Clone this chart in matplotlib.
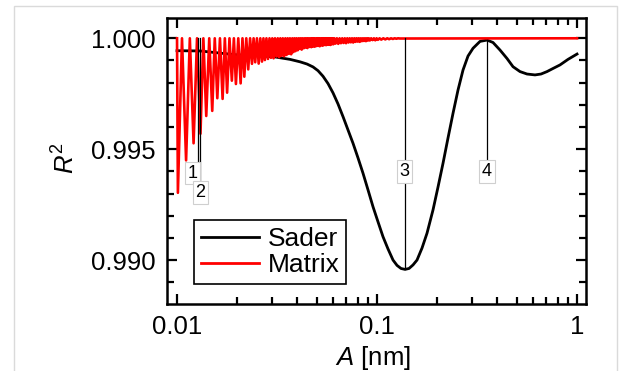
import matplotlib
matplotlib.use("Agg")
import matplotlib.pyplot as plt
import numpy as np
from matplotlib.patches import Rectangle
from matplotlib.ticker import FixedLocator, FixedFormatter, MultipleLocator, NullFormatter

plt.rcParams['font.family'] = ['Liberation Sans', 'DejaVu Sans']
plt.rcParams['mathtext.fontset'] = 'custom'
plt.rcParams['mathtext.rm'] = 'Liberation Sans'
plt.rcParams['mathtext.it'] = 'Liberation Sans:italic'

# Sader fit quality vs. amplitude
sader_A = [0.0100, 0.01303, 0.01950, 0.02600, 0.03090, 0.03673, 0.04121, 0.04467,
           0.04786, 0.05070, 0.05370, 0.05689, 0.06026, 0.06383, 0.06761, 0.07161,
           0.07586, 0.08035, 0.08511, 0.09016, 0.09550, 0.10116, 0.10715, 0.11350,
           0.12023, 0.12589, 0.13183, 0.13804, 0.14454, 0.15136, 0.15849, 0.16788,
           0.17783, 0.19055, 0.20184, 0.21380, 0.22646, 0.23988, 0.25410, 0.26915,
           0.28510, 0.30200, 0.32734, 0.35481, 0.38019, 0.41210, 0.44668, 0.47863,
           0.51880, 0.56234, 0.61660, 0.66069, 0.70795, 0.75858, 0.82224, 0.90157,
           1.0]
sader_R2 = [0.99944, 0.99943, 0.99926, 0.99921, 0.99916, 0.99905, 0.99894, 0.99884,
            0.99871, 0.99854, 0.99829, 0.99796, 0.99754, 0.99704, 0.99647, 0.99587,
            0.99527, 0.99461, 0.99392, 0.99317, 0.99241, 0.99173, 0.99106, 0.99051,
            0.99001, 0.98977, 0.98963, 0.98959, 0.98963, 0.98979, 0.99001, 0.99055,
            0.99122, 0.99227, 0.99330, 0.99437, 0.99551, 0.99662, 0.99767, 0.99857,
            0.99920, 0.99955, 0.99986, 0.99992, 0.99981, 0.99947, 0.99909, 0.99872,
            0.99850, 0.99839, 0.99835, 0.99839, 0.99850, 0.99864, 0.99880, 0.99905,
            0.99929]

# Matrix method: oscillation minima (the curve returns to the peak level between them)
matrix_dip_A = [0.0101, 0.0111, 0.0121, 0.0131, 0.0140, 0.0150, 0.0159, 0.0169,
                0.0178, 0.0188, 0.0197, 0.0208, 0.0217, 0.0227, 0.0237, 0.0246,
                0.0256, 0.0266, 0.0275, 0.0285, 0.0295, 0.0304, 0.0314, 0.0324,
                0.0333, 0.0343, 0.0353, 0.0362, 0.0372, 0.0382, 0.0391, 0.0401,
                0.0411, 0.0420, 0.0430, 0.0440, 0.0449, 0.0459, 0.0469, 0.0478,
                0.0488, 0.0498, 0.0507, 0.0517, 0.0527, 0.0536, 0.0546, 0.0556,
                0.0565, 0.0575, 0.0585, 0.0594, 0.0604, 0.062, 0.064, 0.066,
                0.068, 0.070, 0.072, 0.074, 0.076, 0.078, 0.080, 0.082,
                0.084, 0.086, 0.088, 0.090, 0.092, 0.095, 0.098, 0.101,
                0.105, 0.110, 0.115, 0.120, 0.125, 0.130]
matrix_dip_R2 = [0.99304, 0.99450, 0.99527, 0.99570, 0.99650, 0.99673, 0.99730, 0.99727,
                 0.99755, 0.99809, 0.99794, 0.99797, 0.99827, 0.99860, 0.99885, 0.99892,
                 0.99886, 0.99895, 0.99902, 0.99907, 0.99912, 0.99910, 0.99918, 0.99915,
                 0.99921, 0.99919, 0.99925, 0.99930, 0.99928, 0.99938, 0.99942, 0.99946,
                 0.99952, 0.99949, 0.99955, 0.99958, 0.99956, 0.99961, 0.99960, 0.99963,
                 0.99962, 0.99965, 0.99966, 0.99964, 0.99968, 0.99967, 0.99970, 0.99969,
                 0.99971, 0.99972, 0.99970, 0.99974, 0.99973, 0.99976, 0.99975, 0.99978,
                 0.99979, 0.99978, 0.99981, 0.99982, 0.99981, 0.99984, 0.99985, 0.99984,
                 0.99987, 0.99988, 0.99987, 0.99990, 0.99990, 0.99992, 0.99991, 0.99993,
                 0.99994, 0.99995, 0.99996, 0.99997, 0.99998, 0.99999]
matrix_peak = 1.0
matrix_A_range = [0.0100, 1.0]

# Numbered markers
marker_labels = ['1', '2', '3', '4']
marker_A = [0.01268, 0.01306, 0.1373, 0.3547]
marker_top = [1.0, 1.0, 1.0, 0.99992]
marker_bottom = [0.99438, 0.99353, 0.98959, 0.99452]
label_A = [0.01196, 0.01310, 0.1373, 0.3547]
label_R2 = [0.99393, 0.99305, 0.99400, 0.99400]

x_ticks = [0.01, 0.1, 1]
x_ticklabels = ['0.01', '0.1', '1']
y_ticks = [0.990, 0.995, 1.000]

# Build the Matrix zigzag: start at the peak, visit each dip, return to peak level between dips
mx = [matrix_A_range[0]]
my = [matrix_peak]
for i, (a, r) in enumerate(zip(matrix_dip_A, matrix_dip_R2)):
    mx.append(a)
    my.append(r)
    if i + 1 < len(matrix_dip_A):
        mx.append(np.sqrt(a * matrix_dip_A[i + 1]))
        my.append(matrix_peak)
mx.append(matrix_A_range[1])
my.append(matrix_peak)

fig = plt.figure(figsize=(6.28, 3.71), dpi=100)
ax = fig.add_axes([167 / 628, 1 - 304 / 371, (586 - 167) / 628, (304 - 18) / 371])

ax.plot(sader_A, sader_R2, color='black', lw=2.0, label='Sader', zorder=2,
        solid_joinstyle='round')
ax.plot(mx, my, color='#ff0000', lw=1.9, label='Matrix', zorder=3)

for lab, a, yt, yb, la, lr in zip(marker_labels, marker_A, marker_top, marker_bottom,
                                   label_A, label_R2):
    ax.plot([a, a], [yb, yt], color='black', lw=0.9, zorder=4)
    ax.text(la, lr, lab, ha='center', va='center', fontsize=13, zorder=5,
            bbox=dict(boxstyle='square,pad=0.15', fc='white', ec='#cfcfcf', lw=0.8))

ax.set_xscale('log')
ax.set_xlim(0.00891, 1.109)
ax.set_ylim(0.98803, 1.000914)

ax.xaxis.set_major_locator(FixedLocator(x_ticks))
ax.xaxis.set_major_formatter(FixedFormatter(x_ticklabels))
minor_x = [m * d for d in (0.01, 0.1) for m in range(2, 10)]
ax.xaxis.set_minor_locator(FixedLocator(minor_x))
ax.xaxis.set_minor_formatter(NullFormatter())
ax.yaxis.set_major_locator(FixedLocator(y_ticks))
ax.yaxis.set_major_formatter(FixedFormatter([f'{v:.3f}' for v in y_ticks]))
ax.yaxis.set_minor_locator(MultipleLocator(0.001))

ax.tick_params(which='both', direction='in', top=True, right=True, width=1.6,
               labelsize=18.5, pad=8)
ax.tick_params(which='major', length=7.5)
ax.tick_params(which='minor', length=5)
for s in ax.spines.values():
    s.set_linewidth(1.8)

ax.set_ylabel(r'$R^2$', fontsize=18.5)
ax.yaxis.set_label_coords((80 - 167) / 419, (304 - 158) / 286)
ax.set_xlabel(r'$A$ [nm]', fontsize=18.5)
ax.xaxis.set_label_coords((373 - 167) / 419, (304 - 344) / 286)

leg = ax.legend(loc='lower left', bbox_to_anchor=(0.0644, 0.070), borderaxespad=0,
                frameon=True, fancybox=False, edgecolor='black', fontsize=19,
                handlelength=2.2, handletextpad=0.35, labelspacing=0.1,
                borderpad=0.25)
leg.get_frame().set_linewidth(1.2)
leg.get_frame().set_alpha(1)
for h in leg.get_lines():
    h.set_linewidth(2.0)

fig.add_artist(Rectangle((14 / 628, -0.1), (617 - 14) / 628, 0.1 + 1 - 6 / 371,
                         transform=fig.transFigure, fill=False, ec='#dadada',
                         lw=1.0, clip_on=False))

fig.savefig('out.png', dpi=100)
